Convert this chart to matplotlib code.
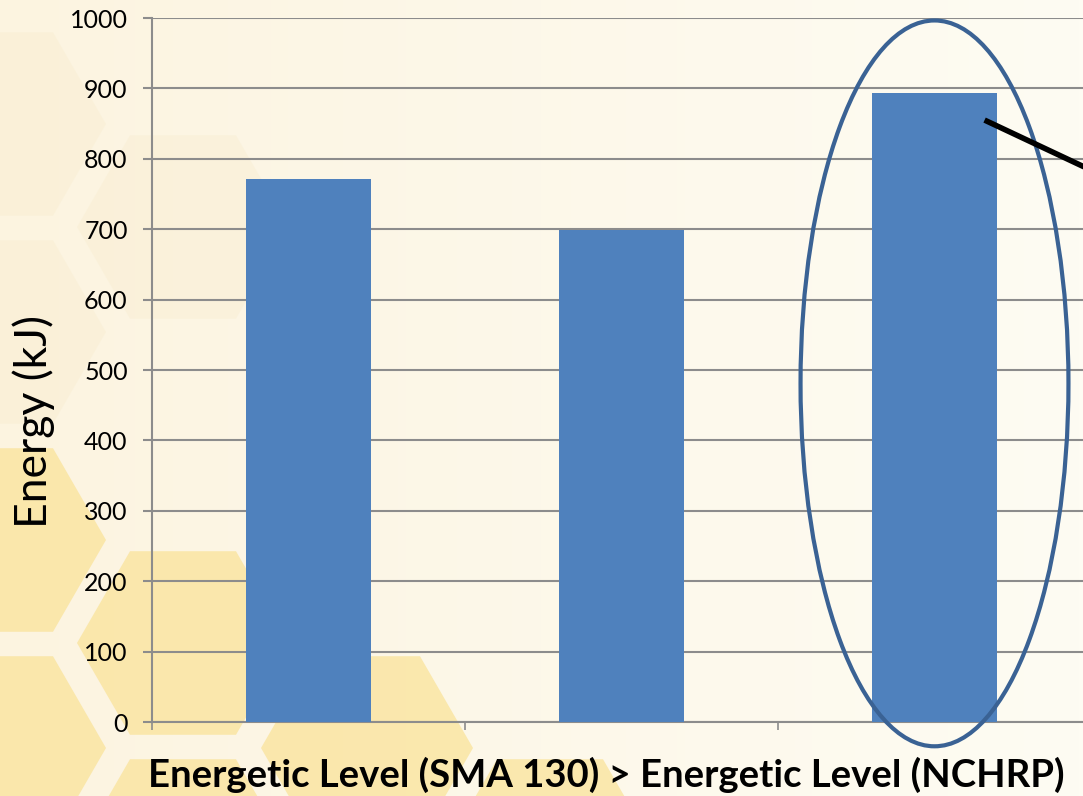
import numpy as np
import matplotlib
matplotlib.use("Agg")
import matplotlib.pyplot as plt
import matplotlib.patches as mpatches

# ── Data ─────────────────────────────────────────────────────────────────────
categories = ["A", "B", "C"]
energy_kj = [771, 699, 893]
y_ticks = [0, 100, 200, 300, 400, 500, 600, 700, 800, 900, 1000]

BAR = "#4F81BD"
GRID = "#8C8C8C"
W, H = 1083, 796

plt.rcParams["font.family"] = ["Lato", "DejaVu Sans"]

fig = plt.figure(figsize=(W / 100, H / 100), dpi=100, facecolor="#FDF7E6")

# ── Background: cream gradient + honeycomb (figure pixels) ───────────────────
bg = fig.add_axes([0, 0, 1, 1], zorder=0)
bg.set_xlim(0, W)
bg.set_ylim(H, 0)
bg.axis("off")
c0 = np.array([0xFC, 0xF4, 0xE0]) / 255
c1 = np.array([0xFE, 0xFC, 0xF3]) / 255
t = np.linspace(0, 1, 256)
grad = (c0[None, :] * (1 - t[:, None]) + c1[None, :] * t[:, None])[None, :, :]
bg.imshow(grad, extent=[0, W, H, 0], aspect="auto", zorder=0)

def hexagon(cx, cy, r, color, alpha):
    bg.add_patch(mpatches.RegularPolygon((cx, cy), numVertices=6, radius=r,
                                         orientation=np.pi / 6, facecolor=color,
                                         edgecolor="none", alpha=alpha, zorder=1))

for cx, cy in [(0, 540), (0, 748), (183, 643), (183, 851), (367, 748), (550, 851)]:
    hexagon(cx, cy, 106, "#FAE39A", 0.75)
for cx, cy in [(0, 124), (0, 332), (183, 227)]:
    hexagon(cx, cy, 106, "#F6E8C4", 0.25)

# ── Main chart ───────────────────────────────────────────────────────────────
left, right = 152, 1091
top, bottom = 18, 722
ax = fig.add_axes([left / W, 1 - bottom / H, (right - left) / W, (bottom - top) / H],
                  zorder=1)
ax.patch.set_alpha(0)

x = np.arange(len(categories))
ax.bar(x, energy_kj, width=0.4, color=BAR, zorder=3)

ax.set_xlim(-0.5, 2.5)
ax.set_ylim(0, 1000)
ax.set_yticks(y_ticks)
ax.set_yticklabels([str(v) for v in y_ticks], fontsize=18)
ax.yaxis.grid(True, color=GRID, linewidth=1.5, zorder=1)
ax.set_axisbelow(True)

ax.set_xticks([-0.5, 0.5, 1.5, 2.5])
ax.set_xticklabels([])
ax.tick_params(axis="x", length=6, width=1.2, color=GRID)
ax.tick_params(axis="y", length=6.5, width=1.5, color=GRID, pad=11)

for s in ["top", "right"]:
    ax.spines[s].set_visible(False)
ax.spines["left"].set_color(GRID)
ax.spines["left"].set_linewidth(1.5)
ax.spines["bottom"].set_color(GRID)
ax.spines["bottom"].set_linewidth(1.5)

ax.set_ylabel("Energy (kJ)", fontsize=32)
ax.yaxis.set_label_coords(-97 / (right - left), (bottom - 422) / (bottom - top))

fig.text(606 / W, 1 - 787 / H,
         "Energetic Level (SMA 130) > Energetic Level (NCHRP)",
         fontsize=27.5, fontweight="bold", ha="center", va="baseline")

# ── Highlight ellipse and pointer line ───────────────────────────────────────
ell = mpatches.Ellipse((2, 481), width=0.856, height=1031, fill=False,
                       edgecolor="#3A6294", linewidth=3, clip_on=False, zorder=4)
ax.add_patch(ell)
ax.plot([2.16, 2.6], [855, 763], color="black", linewidth=4,
        solid_capstyle="butt", clip_on=False, zorder=5)

fig.savefig("out.png", dpi=100)
